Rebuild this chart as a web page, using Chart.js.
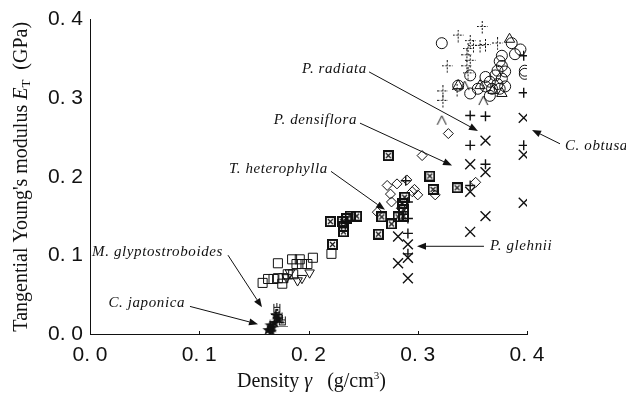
<!DOCTYPE html>
<html>
<head>
<meta charset="utf-8">
<script src="https://cdn.jsdelivr.net/npm/chart.js@4.4.0/dist/chart.umd.min.js"></script>
<style>
  html, body { margin: 0; padding: 0; background: #fff; }
  canvas { display: block; }
</style>
</head>
<body>
<canvas id="chart" width="626" height="400"></canvas>
<script>
// density (g/cm3) against tangential Young's modulus (GPa), one pair per marker type
const starDensity = [0.163, 0.165, 0.167, 0.169, 0.172, 0.166, 0.170];
const starModulus = [0.005, 0.011, 0.008, 0.014, 0.019, 0.003, 0.024];

const crownDensity = [0.171, 0.173, 0.176];
const crownModulus = [0.032, 0.021, 0.016];

const squareDensity = [0.172, 0.185, 0.189, 0.194, 0.199, 0.204, 0.221, 0.158, 0.163, 0.168, 0.172, 0.177, 0.181, 0.186, 0.192, 0.176];
const squareModulus = [0.090, 0.095, 0.089, 0.089, 0.089, 0.097, 0.102, 0.065, 0.070, 0.070, 0.071, 0.071, 0.076, 0.076, 0.095, 0.064];

const triDownDensity = [0.183, 0.190, 0.194, 0.201, 0.180];
const triDownModulus = [0.078, 0.068, 0.071, 0.078, 0.072];

const boxedDensity = [0.273, 0.311, 0.314, 0.336, 0.220, 0.231, 0.235, 0.238, 0.244, 0.232, 0.232, 0.222, 0.264, 0.267, 0.276, 0.286, 0.287, 0.282, 0.287, 0.288];
const boxedModulus = [0.227, 0.201, 0.184, 0.186, 0.143, 0.143, 0.147, 0.150, 0.150, 0.137, 0.130, 0.114, 0.127, 0.149, 0.140, 0.166, 0.158, 0.149, 0.150, 0.174];

const diamondDensity = [0.328, 0.304, 0.353, 0.316, 0.272, 0.281, 0.290, 0.297, 0.300, 0.295, 0.263, 0.275, 0.276, 0.285];
const diamondModulus = [0.255, 0.227, 0.193, 0.177, 0.189, 0.191, 0.196, 0.184, 0.177, 0.181, 0.155, 0.178, 0.168, 0.160];

const plusDensity = [0.397, 0.397, 0.348, 0.362, 0.348, 0.362, 0.397, 0.348, 0.291, 0.291, 0.291, 0.291, 0.289];
const plusModulus = [0.354, 0.307, 0.278, 0.277, 0.240, 0.216, 0.240, 0.189, 0.168, 0.147, 0.128, 0.102, 0.195];

const crossDensity = [0.397, 0.362, 0.348, 0.362, 0.397, 0.348, 0.397, 0.362, 0.348, 0.291, 0.282, 0.291, 0.291, 0.282];
const crossModulus = [0.275, 0.246, 0.216, 0.206, 0.228, 0.181, 0.167, 0.150, 0.130, 0.114, 0.090, 0.097, 0.071, 0.124];

const circleDensity = [0.322, 0.386, 0.394, 0.389, 0.377, 0.375, 0.377, 0.373, 0.398, 0.398, 0.380, 0.362, 0.371, 0.377, 0.366, 0.373, 0.348, 0.348, 0.355, 0.362, 0.368, 0.375, 0.380, 0.366, 0.337];
const circleModulus = [0.370, 0.370, 0.362, 0.356, 0.354, 0.347, 0.341, 0.335, 0.335, 0.331, 0.334, 0.327, 0.329, 0.325, 0.321, 0.318, 0.329, 0.306, 0.312, 0.315, 0.312, 0.312, 0.315, 0.303, 0.316];

const triUpDensity = [0.384, 0.337, 0.377, 0.357, 0.369];
const triUpModulus = [0.375, 0.316, 0.306, 0.316, 0.310];

const caretDensity = [0.360, 0.322, 0.343];
const caretModulus = [0.297, 0.272, 0.316];

const dottedDensity = [0.359, 0.337, 0.348, 0.351, 0.357, 0.373, 0.346, 0.345, 0.348, 0.345, 0.327, 0.346, 0.323, 0.323, 0.336, 0.362];
const dottedModulus = [0.390, 0.379, 0.372, 0.366, 0.366, 0.369, 0.362, 0.354, 0.347, 0.340, 0.340, 0.331, 0.308, 0.296, 0.310, 0.367];

const axisTicks = [0, 0.1, 0.2, 0.3, 0.4];

// callouts: label, text anchor, arrow start and arrow tip (data units)
const callouts = [
  { text: 'P. radiata', align: 'right', at: [0.2535, 0.3373], from: [0.2554, 0.3335], tip: [0.3551, 0.2583] },
  { text: 'P. densiflora', align: 'right', at: [0.2444, 0.2721], from: [0.2471, 0.2683], tip: [0.3314, 0.2144] },
  { text: 'T. heterophylla', align: 'right', at: [0.2178, 0.2094], from: [0.2206, 0.2069], tip: [0.2700, 0.1580] },
  { text: 'M. glyptostroboides', align: 'right', at: [0.1217, 0.1041], from: [0.1263, 0.1003], tip: [0.1574, 0.0339] },
  { text: 'C. japonica', align: 'right', at: [0.0870, 0.0389], from: [0.0915, 0.0351], tip: [0.1538, 0.0125] },
  { text: 'P. glehnii', align: 'left', at: [0.3661, 0.1116], from: [0.3606, 0.1116], tip: [0.2993, 0.1116] },
  { text: 'C. obtusa', align: 'left', at: [0.4348, 0.2395], from: [0.4302, 0.2420], tip: [0.4046, 0.2596] }
];

const ink = '#111';
const serif = '"Liberation Serif", "Times New Roman", serif';

function marker(w, h, paint) {
  const c = document.createElement('canvas');
  c.width = w;
  c.height = h;
  const g = c.getContext('2d');
  g.strokeStyle = ink;
  g.fillStyle = ink;
  g.lineWidth = 1;
  paint(g);
  return c;
}

const boxedCross = marker(11, 11, g => {
  g.lineWidth = 2;
  g.strokeRect(1, 1, 9, 9);
  g.lineWidth = 1.2;
  g.beginPath();
  g.moveTo(3, 3); g.lineTo(8, 8);
  g.moveTo(8, 3); g.lineTo(3, 8);
  g.stroke();
});

const caret = marker(11, 11, g => {
  g.beginPath();
  g.moveTo(1, 10); g.lineTo(5.5, 1); g.lineTo(10, 10);
  g.stroke();
});

const dottedPlus = marker(11, 13, g => {
  g.setLineDash([2, 1.5]);
  g.beginPath();
  g.moveTo(5.5, 0); g.lineTo(5.5, 13);
  g.moveTo(0, 5.5); g.lineTo(11, 5.5);
  g.stroke();
});

const solidStar = marker(12, 12, g => {
  g.beginPath();
  for (let i = 0; i < 10; i++) {
    const r = i % 2 ? 2.6 : 6;
    const a = -Math.PI / 2 + i * Math.PI / 5;
    g.lineTo(6 + r * Math.cos(a), 6 + r * Math.sin(a));
  }
  g.closePath();
  g.fill();
});

const crown = marker(11, 12, g => {
  g.strokeRect(2.5, 4.5, 6, 5);
  g.beginPath();
  g.moveTo(2.5, 4.5); g.lineTo(2.5, 1);
  g.moveTo(5.5, 4.5); g.lineTo(5.5, 0);
  g.moveTo(8.5, 4.5); g.lineTo(8.5, 1);
  g.moveTo(0, 11.5); g.lineTo(11, 11.5);
  g.stroke();
  g.fillRect(4, 6, 3, 2);
});

function series(label, xs, ys, pointStyle, radius, rotation, weight) {
  return {
    label: label,
    data: xs.map((x, i) => ({ x: x, y: ys[i] })),
    pointStyle: pointStyle,
    pointRadius: radius,
    pointRotation: rotation || 0,
    pointBorderWidth: weight || 1,
    borderColor: ink,
    backgroundColor: 'transparent',
    showLine: false
  };
}

const tickLabel = v => v.toFixed(1).replace('.', '. ');

// arrows, axis titles and the short inward ticks
const extras = {
  id: 'extras',
  afterDraw(chart) {
    const { ctx, scales: { x, y } } = chart;
    ctx.save();
    ctx.strokeStyle = ink;
    ctx.fillStyle = ink;
    ctx.lineWidth = 1;

    axisTicks.slice(1).forEach(v => {
      const px = Math.round(x.getPixelForValue(v)) + 0.5;
      ctx.beginPath();
      ctx.moveTo(px, y.bottom);
      ctx.lineTo(px, y.bottom - 3);
      ctx.stroke();
    });

    ctx.textBaseline = 'middle';
    callouts.forEach(c => {
      ctx.font = 'italic 15px ' + serif;
      ctx.letterSpacing = '0.6px';
      ctx.textAlign = c.align;
      ctx.fillText(c.text, x.getPixelForValue(c.at[0]), y.getPixelForValue(c.at[1]));
      ctx.letterSpacing = '0px';
      const x0 = x.getPixelForValue(c.from[0]), y0 = y.getPixelForValue(c.from[1]);
      const x1 = x.getPixelForValue(c.tip[0]), y1 = y.getPixelForValue(c.tip[1]);
      const a = Math.atan2(y1 - y0, x1 - x0);
      const len = 9, half = 3.5;
      const bx = x1 - len * Math.cos(a), by = y1 - len * Math.sin(a);
      ctx.beginPath();
      ctx.moveTo(x0, y0);
      ctx.lineTo(bx, by);
      ctx.stroke();
      ctx.beginPath();
      ctx.moveTo(x1, y1);
      ctx.lineTo(bx + half * Math.sin(a), by - half * Math.cos(a));
      ctx.lineTo(bx - half * Math.sin(a), by + half * Math.cos(a));
      ctx.closePath();
      ctx.fill();
    });

    const drawRuns = (runs, cx, cy) => {
      let w = 0;
      runs.forEach(r => { ctx.font = r.font; w += ctx.measureText(r.t).width; });
      let px = cx - w / 2;
      ctx.textAlign = 'left';
      runs.forEach(r => {
        ctx.font = r.font;
        ctx.fillText(r.t, px, cy + (r.dy || 0));
        px += ctx.measureText(r.t).width;
      });
    };

    ctx.save();
    ctx.translate(22, (y.top + y.bottom) / 2);
    ctx.rotate(-Math.PI / 2);
    drawRuns([
      { t: "Tangential Young's modulus ", font: '20px ' + serif },
      { t: 'E', font: 'italic 20px ' + serif },
      { t: 'T', font: '13px ' + serif, dy: 5 },
      { t: '  (GPa)', font: '20px ' + serif }
    ], 0, 0);
    ctx.restore();

    drawRuns([
      { t: 'Density ', font: '20px ' + serif },
      { t: 'γ', font: 'italic 20px ' + serif },
      { t: '   (g/cm', font: '20px ' + serif },
      { t: '3', font: '11px ' + serif, dy: -6 },
      { t: ')', font: '20px ' + serif }
    ], (x.left + x.right) / 2 + 3, 382);

    ctx.restore();
  }
};

new Chart(document.getElementById('chart'), {
  type: 'scatter',
  data: {
    datasets: [
      series('C. japonica', starDensity, starModulus, solidStar, 6),
      series('M. glyptostroboides', crownDensity, crownModulus, crown, 6),
      series('open square', squareDensity, squareModulus, 'rect', 6.4),
      series('triangle down', triDownDensity, triDownModulus, 'triangle', 5.5, 180),
      series('T. heterophylla', boxedDensity, boxedModulus, boxedCross, 6),
      series('P. densiflora', diamondDensity, diamondModulus, 'rectRot', 5),
      series('P. radiata', plusDensity, plusModulus, 'cross', 5, 0, 1.4),
      series('P. glehnii / C. obtusa', crossDensity, crossModulus, 'crossRot', 7, 0, 1.4),
      series('circle', circleDensity, circleModulus, 'circle', 5.5),
      series('triangle up', triUpDensity, triUpModulus, 'triangle', 6),
      series('caret', caretDensity, caretModulus, caret, 6),
      series('dotted cross', dottedDensity, dottedModulus, dottedPlus, 6)
    ]
  },
  options: {
    responsive: false,
    animation: false,
    events: [],
    layout: { padding: { left: 0, right: 99, top: 15, bottom: 0 } },
    plugins: {
      legend: { display: false },
      tooltip: { enabled: false }
    },
    scales: {
      x: {
        type: 'linear',
        min: 0,
        max: 0.4,
        afterBuildTicks: s => { s.ticks = axisTicks.map(v => ({ value: v })); },
        afterFit: s => { s.height = 66; },
        grid: { display: false, drawTicks: false },
        border: { display: true, color: ink, width: 1 },
        ticks: {
          callback: tickLabel,
          color: ink,
          padding: 9,
          maxRotation: 0,
          autoSkip: false,
          font: { family: '"Liberation Sans", Arial, sans-serif', size: 21 }
        }
      },
      y: {
        type: 'linear',
        min: 0,
        max: 0.4,
        afterBuildTicks: s => { s.ticks = axisTicks.map(v => ({ value: v })); },
        afterFit: s => { s.width = 90; },
        grid: { display: false, drawTicks: false },
        border: { display: true, color: ink, width: 1 },
        ticks: {
          callback: tickLabel,
          color: ink,
          padding: 7,
          autoSkip: false,
          font: { family: '"Liberation Sans", Arial, sans-serif', size: 21 }
        }
      }
    }
  },
  plugins: [extras]
});
</script>
</body>
</html>
